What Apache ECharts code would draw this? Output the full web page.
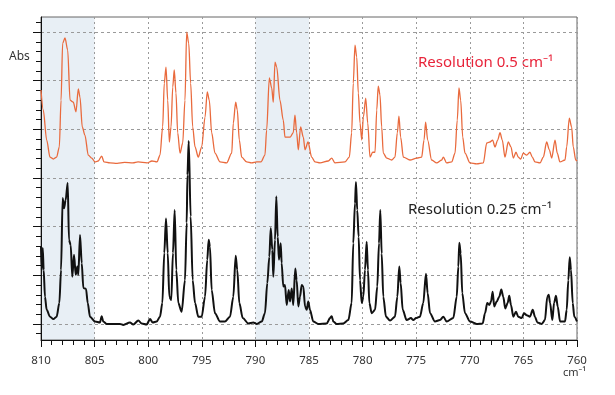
<!DOCTYPE html>
<html>
<head>
<meta charset="utf-8">
<script src="https://cdn.jsdelivr.net/npm/echarts@6/dist/echarts.min.js"></script>
<style>html,body{margin:0;padding:0;background:#fff}#c{width:615px;height:395px}</style>
</head>
<body>
<div id="c"></div>
<script>
// Wavenumber range and tick settings
const xMin = 760, xMax = 810, xStep = 5;
const shadedBands = [[810, 805], [790, 785]];
const labels = { abs: 'Abs', unit: 'cm\u207B\u00B9', res05: 'Resolution 0.5 cm\u207B\u00B9', res025: 'Resolution 0.25 cm\u207B\u00B9' };

// Resolution 0.5 cm-1 spectrum: [wavenumber, absorbance (grid units)]
const spectrum05 = [[810.00,4.81],[809.79,4.40],[809.47,3.78],[809.16,3.43],[808.85,3.39],[808.54,3.43],[808.29,3.64],[808.13,4.60],[807.98,5.77],[807.76,5.88],[807.51,5.63],[807.29,4.60],[806.99,4.56],[806.74,4.36],[806.52,4.83],[806.36,4.66],[806.15,4.05],[805.90,3.88],[805.59,3.47],[805.27,3.41],[804.96,3.33],[804.66,3.35],[804.34,3.45],[804.12,3.33],[803.56,3.31],[802.90,3.30],[802.20,3.32],[801.42,3.31],[800.95,3.33],[800.11,3.31],[799.65,3.35],[799.18,3.33],[798.90,3.47],[798.65,4.05],[798.50,4.95],[798.34,5.28],[798.18,4.60],[798.03,3.74],[797.87,4.05],[797.71,4.87],[797.57,5.22],[797.41,4.75],[797.25,3.93],[797.03,3.51],[796.78,3.72],[796.57,4.60],[796.41,6.00],[796.22,5.77],[796.04,4.95],[795.85,4.05],[795.63,3.64],[795.33,3.43],[795.01,3.64],[794.70,4.25],[794.49,4.77],[794.30,4.60],[794.08,3.93],[793.77,3.51],[793.30,3.33],[792.68,3.31],[792.21,3.51],[792.06,4.13],[791.84,4.56],[791.69,4.40],[791.50,3.78],[791.28,3.43],[790.81,3.33],[790.35,3.31],[789.88,3.33],[789.48,3.33],[789.11,3.47],[788.95,3.99],[788.70,5.06],[788.48,4.85],[788.33,4.56],[788.17,5.38],[788.01,5.28],[787.71,4.60],[787.40,4.19],[787.24,3.84],[786.77,3.84],[786.47,3.93],[786.31,4.29],[786.15,3.93],[786.00,3.58],[785.78,4.05],[785.53,3.84],[785.37,3.58],[785.09,3.74],[784.75,3.43],[784.44,3.33],[783.97,3.31],[783.20,3.35],[782.88,3.41],[782.58,3.31],[781.64,3.33],[781.24,3.43],[781.02,3.93],[780.87,4.95],[780.71,5.73],[780.55,5.49],[780.40,4.75],[780.24,4.13],[780.08,3.78],[779.93,4.25],[779.71,4.64],[779.52,4.13],[779.31,3.43],[779.06,3.53],[778.84,3.53],[778.68,4.40],[778.54,4.89],[778.38,4.71],[778.22,4.05],[778.07,3.51],[777.75,3.41],[777.29,3.37],[776.98,3.43],[776.76,3.93],[776.61,4.27],[776.45,3.84],[776.20,3.43],[775.58,3.37],[774.95,3.41],[774.49,3.43],[774.27,3.78],[774.12,4.15],[773.93,3.78],[773.56,3.37],[773.09,3.31],[772.62,3.37],[772.47,3.43],[772.16,3.31],[771.69,3.33],[771.38,3.51],[771.17,4.19],[771.01,4.85],[770.85,4.60],[770.66,3.84],[770.45,3.51],[769.98,3.31],[769.36,3.29],[768.74,3.31],[768.42,3.72],[768.12,3.74],[767.87,3.78],[767.65,3.64],[767.40,3.78],[767.18,3.93],[766.97,3.78],[766.72,3.43],[766.41,3.74],[766.16,3.64],[765.94,3.41],[765.69,3.53],[765.48,3.43],[765.25,3.39],[765.01,3.51],[764.69,3.47],[764.39,3.53],[764.17,3.43],[763.92,3.33],[763.45,3.31],[763.14,3.43],[762.83,3.74],[762.58,3.58],[762.36,3.41],[762.05,3.78],[761.84,3.51],[761.59,3.33],[761.12,3.37],[760.96,3.64],[760.72,4.23],[760.50,4.05],[760.35,3.64],[760.12,3.37],[760.00,3.35]];

// Resolution 0.25 cm-1 spectrum: [wavenumber, absorbance (grid units)]
const spectrum025 = [[810.00,1.59],[809.93,1.11],[809.84,1.56],[809.75,1.11],[809.63,0.56],[809.47,0.29],[809.16,0.15],[808.85,0.10],[808.54,0.15],[808.29,0.43],[808.13,1.11],[807.98,2.59],[807.85,2.38],[807.70,2.55],[807.51,2.90],[807.39,1.73],[807.23,1.62],[807.08,0.97],[806.92,1.42],[806.76,1.01],[806.61,1.18],[806.52,1.01],[806.36,1.83],[806.20,1.25],[806.05,0.74],[805.80,0.72],[805.64,0.43],[805.43,0.15],[804.96,0.05],[804.50,0.03],[804.34,0.16],[804.19,0.05],[803.87,0],[802.63,0],[802.32,-0.02],[801.70,0.03],[801.39,-0.01],[800.92,0.07],[800.61,0.01],[800.14,-0.01],[799.83,0.10],[799.58,0.03],[799.21,0.05],[798.90,0.15],[798.68,0.43],[798.50,1.46],[798.34,2.17],[798.18,1.46],[798.03,0.56],[797.85,0.49],[797.69,1.46],[797.53,2.34],[797.38,1.11],[797.19,0.43],[796.88,0.25],[796.57,0.90],[796.41,2.08],[796.34,3.06],[796.22,3.76],[796.04,2.21],[795.85,0.90],[795.63,0.43],[795.33,0.15],[795.01,0.15],[794.70,0.56],[794.49,1.32],[794.36,1.73],[794.24,1.59],[794.08,0.70],[793.77,0.22],[793.30,0.05],[792.84,0.05],[792.37,0.15],[792.06,0.56],[791.84,1.40],[791.69,1.11],[791.50,0.43],[791.18,0.12],[790.66,0.01],[790.20,0.03],[789.88,0],[789.41,0.05],[789.11,0.22],[788.89,0.84],[788.70,1.38],[788.57,1.97],[788.42,1.52],[788.33,0.97],[788.17,1.73],[788.05,2.62],[787.92,1.79],[787.80,1.32],[787.64,1.66],[787.55,1.25],[787.40,0.77],[787.24,0.80],[787.08,0.39],[786.89,0.70],[786.77,0.46],[786.61,0.73],[786.47,0.39],[786.28,1.14],[786.15,0.90],[786.00,0.36],[785.84,0.56],[785.68,0.80],[785.53,0.77],[785.37,0.36],[785.21,0.29],[785.07,0.46],[784.91,0.29],[784.60,0.05],[784.13,0],[783.35,0.01],[783.04,0.12],[782.88,0.16],[782.73,0.05],[782.42,0],[781.80,0.01],[781.33,0.08],[781.02,0.43],[780.87,1.66],[780.71,2.48],[780.62,2.92],[780.50,2.34],[780.37,1.79],[780.24,0.90],[780.08,0.43],[779.93,0.56],[779.78,1.11],[779.62,1.69],[779.50,1.11],[779.37,0.43],[779.15,0.22],[778.84,0.29],[778.63,0.77],[778.47,1.66],[778.35,2.34],[778.22,1.45],[778.07,0.56],[777.82,0.15],[777.44,0.07],[776.98,0.15],[776.76,0.56],[776.58,1.18],[776.45,0.84],[776.26,0.29],[775.89,0.08],[775.49,0.12],[775.27,0.08],[775.02,0.12],[774.65,0.15],[774.34,0.43],[774.09,1.03],[773.93,0.63],[773.71,0.22],[773.25,0.05],[772.78,0.08],[772.47,0.15],[772.16,0.05],[771.54,0.12],[771.22,0.56],[771.07,1.18],[770.98,1.67],[770.85,1.45],[770.70,0.63],[770.45,0.22],[769.98,0.05],[769.36,0],[768.80,0.01],[768.58,0.22],[768.37,0.43],[768.18,0.39],[768.02,0.46],[767.87,0.66],[767.72,0.36],[767.49,0.46],[767.25,0.56],[767.06,0.71],[766.88,0.56],[766.69,0.32],[766.47,0.43],[766.32,0.58],[766.16,0.39],[765.94,0.15],[765.69,0.25],[765.48,0.15],[765.16,0.12],[764.94,0.22],[764.69,0.18],[764.39,0.15],[764.13,0.29],[763.92,0.15],[763.70,0.03],[763.29,0],[762.99,0.08],[762.77,0.56],[762.64,0.60],[762.51,0.43],[762.30,0.08],[762.14,0.43],[761.96,0.58],[761.80,0.36],[761.58,0.05],[761.12,0.05],[760.96,0.29],[760.81,0.90],[760.68,1.37],[760.56,1.11],[760.40,0.43],[760.25,0.15],[760.00,0.05]];

const FONT = '"Noto Sans", "DejaVu Sans", sans-serif';
const chart = echarts.init(document.getElementById('c'), null, { renderer: 'canvas' });

const option = {
  animation: false,
  backgroundColor: '#ffffff',
  grid: [
    { left: 41, right: 38, top: 17, bottom: 55, show: true, borderColor: '#666', borderWidth: 1, backgroundColor: 'transparent', z: 2 },
    { left: 41, right: 38, top: 22.3, bottom: 61.3 },
    { left: 41, right: 38, top: 32, bottom: 71 }
  ],
  xAxis: [
    {
      gridIndex: 0, type: 'value', min: xMin, max: xMax, interval: xStep, inverse: true, z: 2,
      axisLine: { onZero: false, lineStyle: { color: '#111', width: 1 } },
      axisTick: { length: 7, lineStyle: { color: '#111' } },
      minorTick: { show: true, splitNumber: 5, length: 5, lineStyle: { color: '#111' } },
      axisLabel: { color: '#333', fontSize: 11.5, margin: 15, fontFamily: FONT },
      splitLine: { show: true, lineStyle: { color: '#9a9a9a', type: [2, 3], width: 1 } }
    },
    { gridIndex: 1, type: 'value', show: false },
    { gridIndex: 2, type: 'value', show: false }
  ],
  yAxis: [
    {
      gridIndex: 0, type: 'value', min: -0.33, max: 6.31, z: 2,
      axisLine: { show: true, onZero: false, lineStyle: { color: '#111', width: 1 } },
      axisTick: { show: false }, axisLabel: { show: false }, splitLine: { show: false }
    },
    {
      gridIndex: 1, type: 'value', min: 0, max: 32, interval: 1, z: 2,
      axisLine: { show: false, onZero: false },
      axisTick: { show: true, length: 5, lineStyle: { color: '#111' } },
      axisLabel: { show: false }, splitLine: { show: false }
    },
    {
      gridIndex: 2, type: 'value', min: 0, max: 6, interval: 1, z: 2,
      axisLine: { show: false, onZero: false },
      axisTick: { show: true, length: 8, lineStyle: { color: '#111' } },
      axisLabel: { show: false },
      splitLine: { show: true, lineStyle: { color: '#9a9a9a', type: [3, 3], width: 1 } }
    }
  ],
  series: [
    {
      type: 'line', xAxisIndex: 0, yAxisIndex: 0, data: [], silent: true, z: 1,
      markArea: {
        silent: true, z: 1,
        itemStyle: { color: '#e8eff5' },
        data: shadedBands.map(b => [{ xAxis: b[0] }, { xAxis: b[1] }])
      }
    },
    {
      name: labels.res05, type: 'line', xAxisIndex: 0, yAxisIndex: 0, z: 3,
      data: spectrum05, showSymbol: false, symbol: 'none', smooth: 0.3, smoothMonotone: 'x',
      lineStyle: { color: '#e96a3d', width: 1.3 }
    },
    {
      name: labels.res025, type: 'line', xAxisIndex: 0, yAxisIndex: 0, z: 3,
      data: spectrum025, showSymbol: false, symbol: 'none', smooth: 0.3, smoothMonotone: 'x',
      lineStyle: { color: '#111', width: 2 }
    }
  ],
  graphic: [
    { type: 'text', left: 9, top: 51, style: { text: labels.abs, font: '12px ' + FONT, fill: '#333' } },
    { type: 'text', left: 418, top: 55, style: { text: labels.res05, font: '15px ' + FONT, fill: '#e8243a' } },
    { type: 'text', left: 408, top: 202, style: { text: labels.res025, font: '15px ' + FONT, fill: '#222' } },
    { type: 'text', left: 563, top: 367, style: { text: labels.unit, font: '11px ' + FONT, fill: '#333' } }
  ]
};
chart.setOption(option);
</script>
</body>
</html>
